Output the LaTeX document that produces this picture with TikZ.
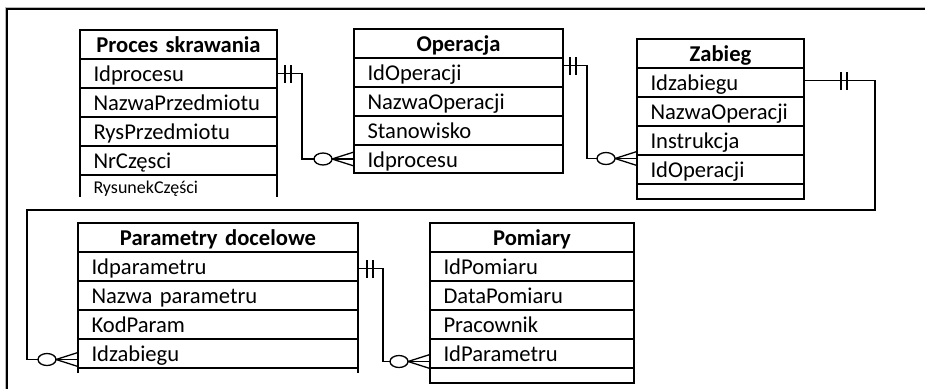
\documentclass[tikz,border=0pt]{standalone}
\usepackage{fontspec}
\setmainfont{Carlito}
\usetikzlibrary{positioning}
\usetikzlibrary{calc}
\usetikzlibrary{decorations.markings}
\newcommand{\fieldfont}{\fontsize{22.6}{26}\selectfont\spaceskip=0.24em\relax}
\newcommand{\headfont}{\fontsize{22.6}{26}\selectfont\bfseries\spaceskip=0.24em\relax}
\tikzset{tabline/.style={line width=1.6pt}}
\tikzset{field/.style={draw, tabline, outer sep=0pt, inner xsep=13.5pt, inner ysep=0pt,
    minimum height=29pt, text width=#1, align=left, text height=16.5pt, text depth=0pt,
    font=\fieldfont}}
\tikzset{head/.style={field=#1, align=center, font=\headfont}}
\tikzset{rel/.style={line width=1.3pt}}
\tikzset{onebar/.style={postaction={decorate, decoration={
      markings,
      mark=at position #1 with {\draw (0,-9pt) -- (0,9pt); \draw (6pt,-9pt) -- (6pt,9pt);}}}}}
\tikzset{manyend/.style={postaction={decorate, decoration={
      markings,
      mark=at position 1 with {\draw (-22pt,0) -- (0,7pt); \draw (-22pt,0) -- (0,-7pt);
        \draw[fill=white] (-31pt,0) ellipse (9pt and 6pt);}}}}}

\begin{document}
\begin{tikzpicture}[x=1pt, y=-1pt]
\useasboundingbox (0,0) rectangle (925,389);

% frame
\draw[gray!55, line width=1pt] (925,7) -- (5,7) -- (5,389);
\draw[line width=1.5pt] (925,9.2) -- (7.2,9.2) -- (7.2,389);

% Proces skrawania
\node[head=170pt, anchor=north west] (p0) at (80,30) {Proces skrawania};
\node[field=170pt, below=0pt of p0] (p1) {Idprocesu};
\node[field=170pt, below=0pt of p1] (p2) {NazwaPrzedmiotu};
\node[field=170pt, below=0pt of p2] (p3) {RysPrzedmiotu};
\node[field=170pt, below=0pt of p3] (p4) {NrCzęsci};
\node[field=170pt, draw=none, minimum height=22pt, text height=14.5pt,
  font=\fontsize{18}{21}\selectfont, below=0pt of p4] (p5) {RysunekCzęści};
\draw[tabline] (p5.north west) -- (p5.south west) (p5.north east) -- (p5.south east);

% Operacja
\node[head=182pt, anchor=north west] (o0) at (354,29) {Operacja};
\node[field=182pt, below=0pt of o0] (o1) {IdOperacji};
\node[field=182pt, below=0pt of o1] (o2) {NazwaOperacji};
\node[field=182pt, below=0pt of o2] (o3) {Stanowisko};
\node[field=182pt, minimum height=28pt, below=0pt of o3] (o4) {Idprocesu};

% Zabieg
\node[head=140pt, anchor=north west] (z0) at (637,39) {Zabieg};
\node[field=140pt, below=0pt of z0] (z1) {Idzabiegu};
\node[field=140pt, below=0pt of z1] (z2) {NazwaOperacji};
\node[field=140pt, below=0pt of z2] (z3) {Instrukcja};
\node[field=140pt, below=0pt of z3] (z4) {IdOperacji};
\node[field=140pt, minimum height=15pt, text height=0pt, below=0pt of z4] (z5) {};

% Parametry docelowe
\node[head=253pt, anchor=north west] (d0) at (78,223) {Parametry docelowe};
\node[field=253pt, below=0pt of d0] (d1) {Idparametru};
\node[field=253pt, below=0pt of d1] (d2) {Nazwa parametru};
\node[field=253pt, below=0pt of d2] (d3) {KodParam};
\node[field=253pt, below=0pt of d3] (d4) {Idzabiegu};
\node[field=253pt, draw=none, minimum height=5pt, text height=0pt, below=0pt of d4] (d5) {};
\draw[tabline] (d5.north west) -- (d5.south west) (d5.north east) -- (d5.south east);

% Pomiary
\node[head=177pt, anchor=north west] (m0) at (430,223) {Pomiary};
\node[field=177pt, below=0pt of m0] (m1) {IdPomiaru};
\node[field=177pt, below=0pt of m1] (m2) {DataPomiaru};
\node[field=177pt, below=0pt of m2] (m3) {Pracownik};
\node[field=177pt, below=0pt of m3] (m4) {IdParametru};
\node[field=177pt, minimum height=15pt, text height=0pt, below=0pt of m4] (m5) {};

% relacje
\coordinate (loop) at (27,210);
\draw[rel, onebar=8pt, manyend] (p1.east) -- ++(25,0) |- (o4.west);
\draw[rel, onebar=7pt, manyend] ([yshift=7pt]o1.east) -- ++(24,0) |- ([yshift=11pt]z4.west);
\draw[rel, onebar=37pt, manyend] ([yshift=2pt]z1.east) -- ++(71,0) |- (loop) |- ([yshift=-6pt]d4.west);
\draw[rel, onebar=9pt, manyend] ([yshift=-2pt]d1.east) -- ++(25,0) |- ([yshift=-8pt]m4.west);
\end{tikzpicture}
\end{document}
